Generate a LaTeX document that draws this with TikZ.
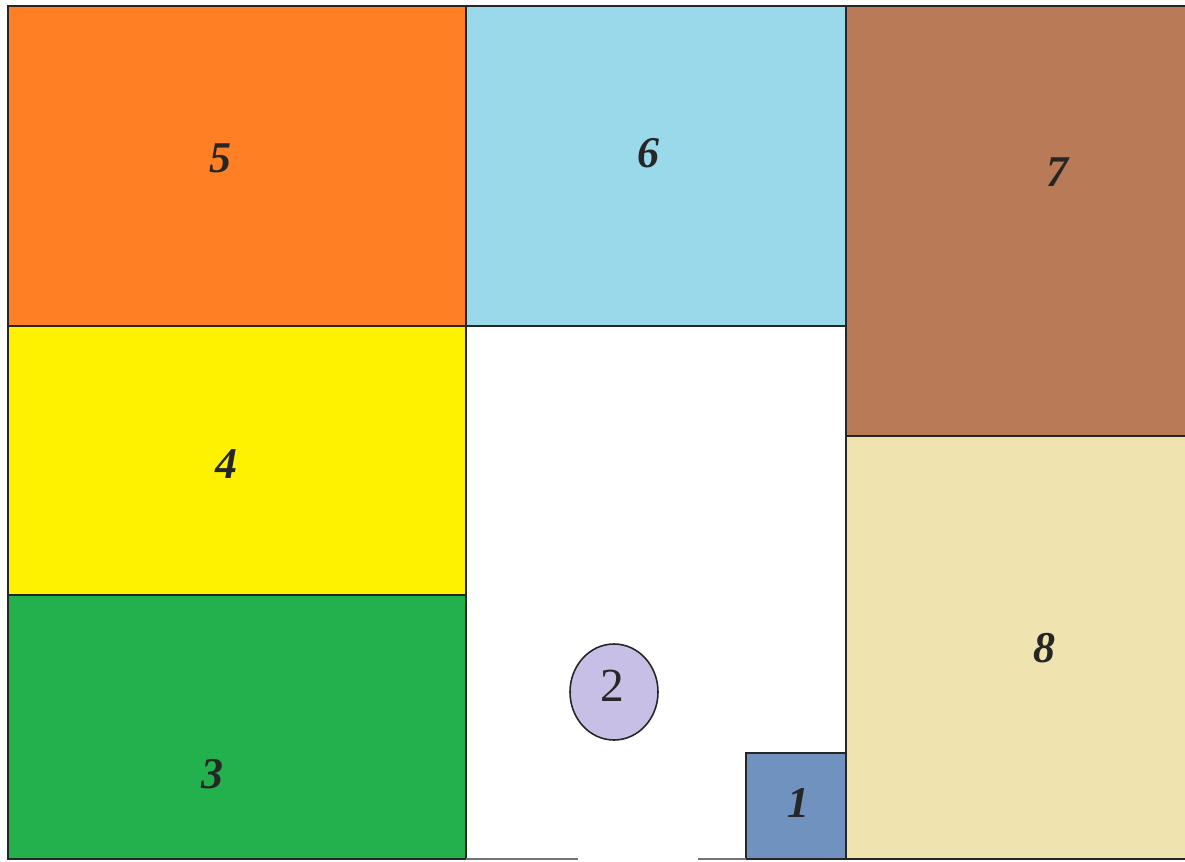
\documentclass[tikz,border=0pt]{standalone}
\usepackage{xcolor}
\usepackage{fontspec}
\setmainfont{Liberation Serif}
\usepackage{tikz}

\definecolor{cOrange}{HTML}{FE7F24}
\definecolor{cSky}{HTML}{99D9EA}
\definecolor{cBrown}{HTML}{B97A57}
\definecolor{cYellow}{HTML}{FFF200}
\definecolor{cGreen}{HTML}{22B14C}
\definecolor{cBeige}{HTML}{EFE4B0}
\definecolor{cBlue}{HTML}{7092BE}
\definecolor{cLav}{HTML}{C8BFE7}

\begin{document}
\begin{tikzpicture}[
  x=0.02cm, y=-0.02cm,           % <-- pixel coordinates
  room/.style={draw=black!85, line width=0.9pt},
  lbl/.style={font=\fontsize{25}{30}\selectfont\bfseries\itshape, text=black!85},
  every node/.style={inner sep=0pt}
]
\useasboundingbox (0,0) rectangle (1185,861);

% rooms
\filldraw[room, fill=cOrange] (8,6) rectangle (466,326);
\filldraw[room, fill=cSky] (466,6) rectangle (846,326);
\filldraw[room, fill=cBrown] (846,6) rectangle (1190,436);
\filldraw[room, fill=cYellow] (8,326) rectangle (466,595);
\filldraw[room, fill=cGreen] (8,595) rectangle (466,859);
\filldraw[room, fill=cBeige] (846,436) rectangle (1190,859);
\filldraw[room, fill=cBlue] (746,753) rectangle (846,859);

% bottom wall with door gap
\draw[room, draw=black!55] (466,859) -- (578,859);
\draw[room, draw=black!55] (698,859) -- (746,859);

% table
\filldraw[room, fill=cLav] (614,692) ellipse (44 and 48);

% labels
\node[lbl] (L5) at (220,158) {5};
\node[lbl] (L6) at (648,153) {6};
\node[lbl] (L7) at (1057,172) {7};
\node[lbl] (L4) at (226,464) {4};
\node[lbl] (L3) at (212,774) {3};
\node[lbl] (L8) at (1044,648) {8};
\node[lbl] (L1) at (798,803) {1};
\node[lbl, font=\fontsize{27}{30}\selectfont] (L2) at (612,686) {2};

\end{tikzpicture}
\end{document}
